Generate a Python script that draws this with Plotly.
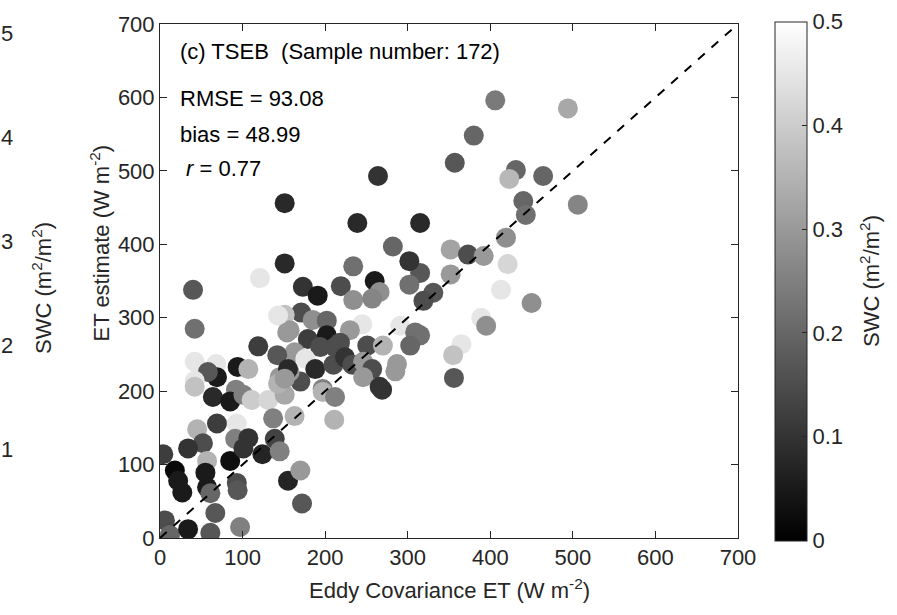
import plotly.graph_objects as go

# Eddy covariance ET (x), TSEB ET estimate (y), SWC (colour)
ec_et = [406, 494, 380, 357, 431, 423, 464, 506, 440, 443, 419, 315, 352, 373, 392, 421, 352, 315, 331, 319,
         413, 450, 389, 395, 365, 355, 356, 315,
         264, 151, 239, 151, 282, 302, 234, 260, 302, 173, 191, 219, 234, 266, 257, 291, 309, 245, 230, 171,
         185, 202, 151, 157, 179, 202, 218, 251, 270, 303,
         194, 212, 163, 176, 188, 210, 224, 233, 246, 257, 246, 287, 285, 266, 170, 197, 157,
         121, 40, 143, 42, 154, 119, 142, 42, 68, 94, 107, 69, 58, 42, 145, 155, 42, 92,
         64, 85, 101, 111, 131, 151, 143, 45, 69, 93, 91, 52, 34, 4, 18, 27, 22, 57, 55, 57, 61, 85, 93, 94,
         107, 101, 124, 139, 145, 155, 170, 172, 6, 12, 34, 67, 61, 97, 137, 163, 197, 212, 211, 151, 269]
tseb_et = [596, 585, 548, 511, 501, 489, 493, 454, 459, 440, 409, 429, 393, 386, 384, 373, 359, 361, 334, 323,
           338, 320, 300, 289, 264, 249, 218, 276,
           493, 456, 429, 374, 397, 377, 370, 350, 345, 342, 330, 343, 324, 335, 326, 289, 280, 291, 283, 307,
           297, 296, 304, 283, 271, 276, 266, 262, 262, 262,
           260, 260, 253, 244, 230, 236, 246, 236, 240, 230, 219, 237, 227, 206, 213, 203, 226,
           354, 338, 303, 285, 280, 261, 249, 240, 237, 233, 230, 219, 226, 214, 219, 230, 206, 202,
           192, 186, 195, 188, 188, 195, 210, 148, 156, 156, 135, 129, 122, 114, 92, 62, 78, 105, 89, 69, 61, 105, 75, 65,
           136, 122, 114, 135, 118, 78, 92, 47, 24, 4, 12, 34, 7, 15, 163, 166, 199, 192, 161, 217, 202]
swc = [0.24, 0.33, 0.20, 0.17, 0.20, 0.36, 0.20, 0.26, 0.20, 0.22, 0.28, 0.08, 0.32, 0.15, 0.30, 0.42, 0.30, 0.17, 0.17, 0.15,
       0.45, 0.28, 0.45, 0.28, 0.45, 0.38, 0.17, 0.22,
       0.10, 0.08, 0.08, 0.08, 0.20, 0.10, 0.22, 0.05, 0.22, 0.10, 0.05, 0.15, 0.28, 0.28, 0.26, 0.45, 0.22, 0.45, 0.30, 0.15,
       0.28, 0.20, 0.38, 0.30, 0.12, 0.05, 0.15, 0.15, 0.35, 0.20,
       0.15, 0.15, 0.30, 0.45, 0.08, 0.15, 0.10, 0.15, 0.30, 0.15, 0.30, 0.30, 0.30, 0.10, 0.15, 0.25, 0.30,
       0.45, 0.17, 0.45, 0.22, 0.30, 0.12, 0.17, 0.45, 0.45, 0.05, 0.35, 0.05, 0.17, 0.45, 0.30, 0.08, 0.38, 0.25,
       0.08, 0.05, 0.25, 0.40, 0.42, 0.33, 0.35, 0.35, 0.12, 0.45, 0.25, 0.15, 0.10, 0.12, 0.02, 0.05, 0.05, 0.35, 0.05, 0.05, 0.20, 0.03, 0.15, 0.17,
       0.10, 0.10, 0.07, 0.13, 0.25, 0.07, 0.30, 0.17, 0.15, 0.20, 0.05, 0.17, 0.17, 0.25, 0.25, 0.35, 0.35, 0.25, 0.35, 0.30, 0.10]

one_to_one = [0, 700]
axis_ticks = [0, 100, 200, 300, 400, 500, 600, 700]
cbar_ticks = [0, 0.1, 0.2, 0.3, 0.4, 0.5]
left_panel_ticks = ["5", "4", "3", "2", "1"]

FONT = "Liberation Sans, Arial, sans-serif"
TXT = "#262626"
FS = 22

fig = go.Figure()
fig.add_trace(go.Scatter(
    x=ec_et, y=tseb_et, mode="markers",
    marker=dict(size=20, color=swc, cmin=0, cmax=0.5,
                colorscale=[[0, "black"], [1, "white"]],
                line=dict(width=0), opacity=1,
                colorbar=dict(x=(775 - 160) / 578, xanchor="left", xpad=0, ypad=0,
                              y=0.5, len=1.01, thickness=32,
                              outlinewidth=1, outlinecolor=TXT,
                              tickvals=cbar_ticks, ticks="inside", ticklen=5, tickcolor=TXT,
                              tickfont=dict(family=FONT, size=FS, color=TXT))),
    showlegend=False, hoverinfo="skip"))
fig.add_trace(go.Scatter(x=one_to_one, y=one_to_one, mode="lines",
                         line=dict(color="black", width=2, dash="dash"),
                         showlegend=False, hoverinfo="skip"))

axis_common = dict(range=[0, 700], tickvals=axis_ticks, ticks="inside", ticklen=7,
                   tickcolor=TXT, linecolor=TXT, linewidth=1, mirror="ticks",
                   showgrid=False, zeroline=False, showline=True,
                   tickfont=dict(family=FONT, size=FS, color=TXT))
fig.update_xaxes(**axis_common)
fig.update_yaxes(**axis_common)

ann = []
def a(text, x, y, xref="x", yref="y", **kw):
    d = dict(text=text, x=x, y=y, xref=xref, yref=yref, showarrow=False,
             font=dict(family=FONT, size=FS, color="black"))
    d.update(kw)
    ann.append(d)

a("(c) TSEB  (Sample number: 172)", 22, 663, xanchor="left", yanchor="middle")
a("RMSE = 93.08", 22, 599, xanchor="left", yanchor="middle")
a("bias = 48.99", 22, 550, xanchor="left", yanchor="middle")
a("<i>r</i> = 0.77", 29, 503, xanchor="left", yanchor="middle")

# axis titles
a("Eddy Covariance ET (W m<sup>-2</sup>)", (449 - 160) / 578, (538 - 590) / 520, "paper", "paper",
  xanchor="center", yanchor="middle", font=dict(family=FONT, size=FS, color=TXT))
a("ET estimate (W m<sup>-2</sup>)", (100 - 160) / 578, (538 - 240) / 520, "paper", "paper",
  xanchor="center", yanchor="middle", textangle=-90, font=dict(family=FONT, size=FS, color=TXT))
a("SWC (m<sup>2</sup>/m<sup>2</sup>)", (870 - 160) / 578, (538 - 278) / 520, "paper", "paper",
  xanchor="center", yanchor="middle", textangle=-90, font=dict(family=FONT, size=FS, color=TXT))

# remnant of neighbouring panel on the left
a("SWC (m<sup>2</sup>/m<sup>2</sup>)", (42 - 160) / 578, (538 - 285) / 520, "paper", "paper",
  xanchor="center", yanchor="middle", textangle=-90, font=dict(family=FONT, size=FS, color=TXT))
for i, t in enumerate(left_panel_ticks):
    a(t, (15 - 160) / 578, (538 - (28 + 105 * i)) / 520, "paper", "paper",
      xanchor="right", yanchor="middle", font=dict(family=FONT, size=FS, color=TXT))

fig.update_layout(
    width=897, height=615, autosize=False,
    margin=dict(l=160, r=159, t=18, b=77),
    paper_bgcolor="white", plot_bgcolor="white",
    annotations=ann,
)
fig.write_html("out.html")
